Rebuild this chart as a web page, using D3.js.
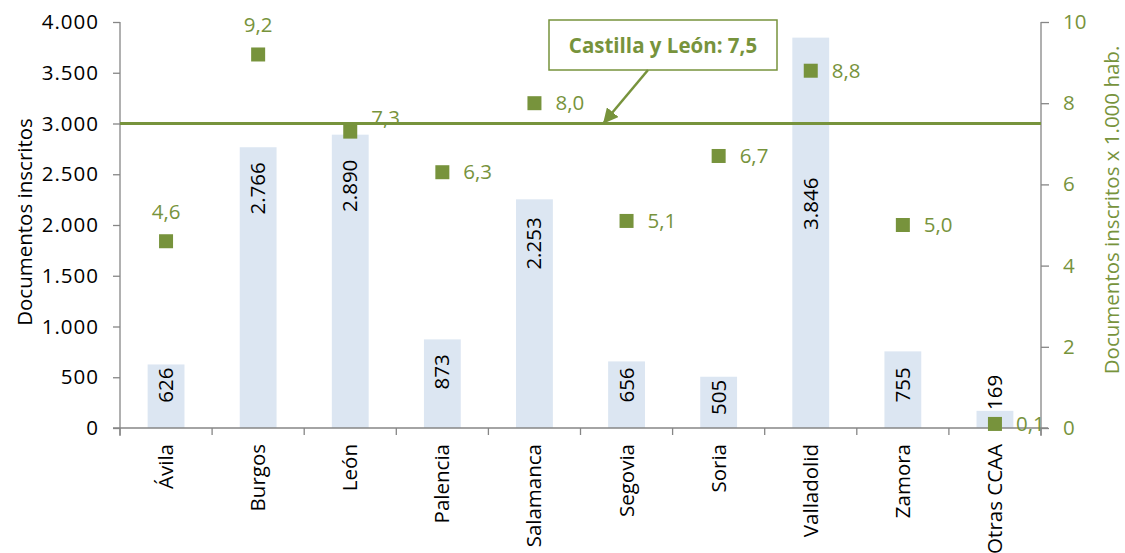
<!DOCTYPE html>
<html>
<head>
<meta charset="utf-8">
<script src="https://cdn.jsdelivr.net/npm/d3@7"></script>
<style>
  body { margin: 0; background: #fff; }
  text { font-family: "Open Sans", Lato, sans-serif; }
</style>
</head>
<body>
<svg id="chart" width="1125" height="553"></svg>
<script>
// data
const provincias = ["Ávila", "Burgos", "León", "Palencia", "Salamanca", "Segovia", "Soria", "Valladolid", "Zamora", "Otras CCAA"];
const documentos = [626, 2766, 2890, 873, 2253, 656, 505, 3846, 755, 169];
const porMil = [4.6, 9.2, 7.3, 6.3, 8.0, 5.1, 6.7, 8.8, 5.0, 0.1];
const mediaCyL = 7.5;
const leftTicks = [0, 500, 1000, 1500, 2000, 2500, 3000, 3500, 4000];
const rightTicks = [0, 2, 4, 6, 8, 10];

// label placement (style): rate label side, and px drop of the bar label below the bar top
const labelPos = ["above", "above", "upright", "right", "right", "right", "right", "right", "right", "right"];
const barLabelDrop = [3, 15, 25, 15, 18, 6, 3, 140, 16, -36];

const green = "#77933C", axisGray = "#868686", barFill = "#DCE6F2";
const fs = 20.5;
const svg = d3.select("#chart");
const mLeft = 120, mRight = 1041, mTop = 22, mBottom = 428;

const fmtMiles = d3.formatLocale({decimal: ",", thousands: ".", grouping: [3]}).format(",");
const fmtDec = v => v.toFixed(1).replace(".", ",");

const x = d3.scaleBand().domain(provincias).range([mLeft, mRight]).paddingInner(0).paddingOuter(0);
const yL = d3.scaleLinear().domain([0, 4000]).range([mBottom, mTop]);
const yR = d3.scaleLinear().domain([0, 10]).range([mBottom, mTop]);

// bars
const barW = x.bandwidth() * 0.4;
svg.append("g").selectAll("rect").data(provincias).join("rect")
  .attr("x", d => x(d) + (x.bandwidth() - barW) / 2)
  .attr("y", (d, i) => yL(documentos[i]))
  .attr("width", barW)
  .attr("height", (d, i) => mBottom - yL(documentos[i]))
  .attr("fill", barFill);

// bar labels
svg.append("g").selectAll("text").data(provincias).join("text")
  .attr("transform", (d, i) => {
    const cx = x(d) + x.bandwidth() / 2;
    return `translate(${cx + 7},${yL(documentos[i]) + barLabelDrop[i]}) rotate(-90)`;
  })
  .attr("text-anchor", "end")
  .attr("font-size", fs)
  .attr("fill", "#000")
  .text((d, i) => fmtMiles(documentos[i]));

// left axis
const axL = svg.append("g").attr("transform", `translate(${mLeft},0)`)
  .call(d3.axisLeft(yL).tickValues(leftTicks).tickSize(7).tickFormat(fmtMiles));
axL.select(".domain").attr("stroke", axisGray).attr("stroke-width", 1.3).attr("d", `M0,${mTop}V${mBottom + 8}`);
axL.selectAll(".tick line").attr("stroke", axisGray).attr("stroke-width", 1.3);
axL.selectAll(".tick text").attr("font-size", fs).attr("fill", "#000").attr("font-family", "Open Sans")
  .attr("x", -21).attr("letter-spacing", 1);

// right axis
const axR = svg.append("g").attr("transform", `translate(${mRight},0)`)
  .call(d3.axisRight(yR).tickValues(rightTicks).tickSize(8).tickFormat(d => d));
axR.select(".domain").attr("stroke", axisGray).attr("stroke-width", 1.3).attr("d", `M0,${mTop}V${mBottom + 8}`);
axR.selectAll(".tick line").attr("stroke", axisGray).attr("stroke-width", 1.3);
axR.selectAll(".tick text").attr("font-size", fs).attr("fill", green).attr("font-family", "Open Sans").attr("x", 22);

// bottom axis
const axB = svg.append("g").attr("transform", `translate(0,${mBottom})`)
  .call(d3.axisBottom(x).tickSize(0).tickFormat(""));
axB.select(".domain").attr("stroke", axisGray).attr("stroke-width", 1.3).attr("d", `M${mLeft - 7},0H${mRight + 7}`);
const bounds = d3.range(provincias.length + 1).map(i => mLeft + i * x.bandwidth());
axB.selectAll("line.sep").data(bounds).join("line").attr("class", "sep")
  .attr("x1", d => d).attr("x2", d => d).attr("y1", 0).attr("y2", 7)
  .attr("stroke", axisGray).attr("stroke-width", 1.3);
svg.append("g").selectAll("text").data(provincias).join("text")
  .attr("transform", d => `translate(${x(d) + x.bandwidth() / 2 + 7},${mBottom + 16}) rotate(-90)`)
  .attr("text-anchor", "end")
  .attr("font-size", fs)
  .text(d => d);

// average line
svg.append("line")
  .attr("x1", mLeft).attr("x2", mRight)
  .attr("y1", yR(mediaCyL)).attr("y2", yR(mediaCyL))
  .attr("stroke", green).attr("stroke-width", 3);

// markers
const ms = 14;
svg.append("g").selectAll("rect").data(provincias).join("rect")
  .attr("x", d => x(d) + x.bandwidth() / 2 - ms / 2)
  .attr("y", (d, i) => yR(porMil[i]) - ms / 2)
  .attr("width", ms).attr("height", ms)
  .attr("fill", green);

svg.append("g").selectAll("text").data(provincias).join("text")
  .attr("x", (d, i) => {
    const cx = x(d) + x.bandwidth() / 2;
    return labelPos[i] === "above" ? cx : cx + 21;
  })
  .attr("y", (d, i) => {
    const cy = yR(porMil[i]);
    if (labelPos[i] === "above") return cy - 22;
    if (labelPos[i] === "upright") return cy - 7;
    return cy + 7;
  })
  .attr("text-anchor", (d, i) => labelPos[i] === "above" ? "middle" : "start")
  .attr("font-size", fs)
  .attr("fill", green)
  .text((d, i) => fmtDec(porMil[i]));

// annotation
svg.append("defs").append("marker")
  .attr("id", "arrow").attr("viewBox", "0 0 10 10").attr("refX", 9).attr("refY", 5)
  .attr("markerWidth", 6).attr("markerHeight", 6).attr("orient", "auto-start-reverse")
  .append("path").attr("d", "M0,0L10,5L0,10z").attr("fill", green);
svg.append("rect").attr("x", 549).attr("y", 20).attr("width", 228).attr("height", 50)
  .attr("fill", "#fff").attr("stroke", green).attr("stroke-width", 1.5);
svg.append("text").attr("x", 663).attr("y", 53).attr("text-anchor", "middle")
  .attr("font-size", 20.5).attr("font-weight", "bold").attr("fill", green)
  .text("Castilla y León: " + fmtDec(mediaCyL));
svg.append("line").attr("x1", 648).attr("y1", 70).attr("x2", 604).attr("y2", yR(mediaCyL) - 1)
  .attr("stroke", green).attr("stroke-width", 2.5).attr("marker-end", "url(#arrow)");

// axis titles
svg.append("text").attr("transform", `translate(32,222) rotate(-90)`)
  .attr("text-anchor", "middle").attr("font-size", fs).text("Documentos inscritos");
svg.append("text").attr("transform", `translate(1119,210) rotate(-90)`)
  .attr("text-anchor", "middle").attr("font-size", fs).attr("fill", green).text("Documentos inscritos x 1.000 hab.");
</script>
</body>
</html>
